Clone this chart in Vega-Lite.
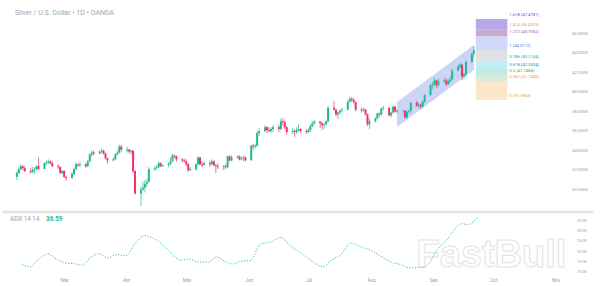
{
"$schema": "https://vega.github.io/schema/vega-lite/v6.json",
"padding": 0,
"spacing": 3,
"background": "white",
"config": {"view": {"stroke": null}, "font": "Roboto", "axis": {"grid": false, "domain": false, "ticks": false, "labelColor": "#9a9a9a", "labelFont": "Roboto", "title": null, "labelOverlap": false, "labelSeparation": 0}},
"datasets": {
"candles": [
{"d":"2025-02-03","o":31.3,"h":31.9,"l":31.0,"c":31.7},
{"d":"2025-02-04","o":31.7,"h":32.3,"l":31.6,"c":32.1},
{"d":"2025-02-05","o":32.1,"h":32.6,"l":32.0,"c":32.4},
{"d":"2025-02-06","o":32.4,"h":32.5,"l":32.0,"c":32.2},
{"d":"2025-02-07","o":32.2,"h":32.4,"l":31.8,"c":31.9},
{"d":"2025-02-10","o":31.9,"h":32.2,"l":31.6,"c":31.8},
{"d":"2025-02-11","o":31.8,"h":32.3,"l":31.7,"c":32.0},
{"d":"2025-02-12","o":32.0,"h":32.3,"l":31.6,"c":32.1},
{"d":"2025-02-13","o":32.1,"h":32.5,"l":32.0,"c":32.4},
{"d":"2025-02-14","o":32.4,"h":33.3,"l":32.0,"c":32.1},
{"d":"2025-02-17","o":32.1,"h":32.8,"l":32.1,"c":32.7},
{"d":"2025-02-18","o":32.7,"h":33.0,"l":32.5,"c":32.8},
{"d":"2025-02-19","o":32.8,"h":33.1,"l":32.6,"c":32.9},
{"d":"2025-02-20","o":32.9,"h":33.0,"l":32.6,"c":32.7},
{"d":"2025-02-21","o":32.7,"h":32.9,"l":32.3,"c":32.4},
{"d":"2025-02-24","o":32.4,"h":32.6,"l":32.1,"c":32.3},
{"d":"2025-02-25","o":32.3,"h":32.4,"l":31.6,"c":31.7},
{"d":"2025-02-26","o":31.7,"h":32.0,"l":31.6,"c":31.9},
{"d":"2025-02-27","o":31.9,"h":32.0,"l":31.2,"c":31.3},
{"d":"2025-02-28","o":31.3,"h":31.4,"l":30.9,"c":31.2},
{"d":"2025-03-03","o":31.2,"h":31.8,"l":31.1,"c":31.6},
{"d":"2025-03-04","o":31.6,"h":32.2,"l":31.5,"c":32.1},
{"d":"2025-03-05","o":32.1,"h":32.8,"l":32.0,"c":32.6},
{"d":"2025-03-06","o":32.6,"h":32.7,"l":32.3,"c":32.5},
{"d":"2025-03-07","o":32.5,"h":32.8,"l":32.3,"c":32.6},
{"d":"2025-03-10","o":32.6,"h":32.7,"l":32.2,"c":32.4},
{"d":"2025-03-11","o":32.4,"h":33.0,"l":32.3,"c":32.9},
{"d":"2025-03-12","o":32.9,"h":33.7,"l":32.8,"c":33.6},
{"d":"2025-03-13","o":33.6,"h":34.0,"l":33.4,"c":33.8},
{"d":"2025-03-14","o":33.8,"h":34.0,"l":33.5,"c":33.7},
{"d":"2025-03-17","o":33.7,"h":34.0,"l":33.6,"c":33.9},
{"d":"2025-03-18","o":33.9,"h":34.2,"l":33.7,"c":34.0},
{"d":"2025-03-19","o":34.0,"h":34.1,"l":33.6,"c":33.7},
{"d":"2025-03-20","o":33.7,"h":33.8,"l":33.1,"c":33.2},
{"d":"2025-03-21","o":33.2,"h":33.3,"l":32.7,"c":33.0},
{"d":"2025-03-24","o":33.0,"h":33.3,"l":32.9,"c":33.1},
{"d":"2025-03-25","o":33.1,"h":33.7,"l":33.0,"c":33.6},
{"d":"2025-03-26","o":33.6,"h":34.0,"l":33.5,"c":33.8},
{"d":"2025-03-27","o":33.8,"h":34.6,"l":33.7,"c":34.4},
{"d":"2025-03-28","o":34.4,"h":34.6,"l":33.9,"c":34.1},
{"d":"2025-03-31","o":34.0,"h":34.4,"l":33.8,"c":34.1},
{"d":"2025-04-01","o":34.1,"h":34.2,"l":33.7,"c":33.9},
{"d":"2025-04-02","o":33.9,"h":34.1,"l":33.6,"c":34.0},
{"d":"2025-04-03","o":34.0,"h":34.0,"l":31.7,"c":31.9},
{"d":"2025-04-04","o":31.9,"h":32.0,"l":29.5,"c":29.6},
{"d":"2025-04-07","o":29.6,"h":30.3,"l":28.3,"c":30.0},
{"d":"2025-04-08","o":30.0,"h":30.8,"l":29.9,"c":30.2},
{"d":"2025-04-09","o":30.2,"h":31.0,"l":29.7,"c":30.6},
{"d":"2025-04-10","o":30.6,"h":31.1,"l":30.3,"c":30.8},
{"d":"2025-04-11","o":30.8,"h":32.3,"l":30.7,"c":32.1},
{"d":"2025-04-14","o":32.1,"h":32.4,"l":31.9,"c":32.2},
{"d":"2025-04-15","o":32.2,"h":32.5,"l":32.0,"c":32.3},
{"d":"2025-04-16","o":32.3,"h":32.9,"l":32.2,"c":32.7},
{"d":"2025-04-17","o":32.7,"h":32.8,"l":32.3,"c":32.4},
{"d":"2025-04-18","o":32.4,"h":32.6,"l":32.3,"c":32.5},
{"d":"2025-04-21","o":32.5,"h":32.8,"l":32.3,"c":32.6},
{"d":"2025-04-22","o":32.6,"h":33.3,"l":32.5,"c":32.9},
{"d":"2025-04-23","o":32.9,"h":33.7,"l":32.8,"c":33.5},
{"d":"2025-04-24","o":33.5,"h":33.6,"l":33.2,"c":33.4},
{"d":"2025-04-25","o":33.4,"h":33.5,"l":32.9,"c":33.1},
{"d":"2025-04-28","o":33.1,"h":33.2,"l":32.8,"c":33.0},
{"d":"2025-04-29","o":33.0,"h":33.2,"l":32.8,"c":32.9},
{"d":"2025-04-30","o":32.9,"h":33.1,"l":32.4,"c":32.6},
{"d":"2025-05-01","o":32.6,"h":32.7,"l":31.8,"c":32.0},
{"d":"2025-05-02","o":32.0,"h":32.3,"l":31.9,"c":32.1},
{"d":"2025-05-05","o":32.1,"h":32.7,"l":31.9,"c":32.6},
{"d":"2025-05-06","o":32.6,"h":33.4,"l":32.5,"c":33.3},
{"d":"2025-05-07","o":33.3,"h":33.3,"l":32.5,"c":32.6},
{"d":"2025-05-08","o":32.6,"h":32.9,"l":32.3,"c":32.5},
{"d":"2025-05-09","o":32.5,"h":32.9,"l":32.5,"c":32.7},
{"d":"2025-05-12","o":32.7,"h":33.0,"l":32.3,"c":32.6},
{"d":"2025-05-13","o":32.6,"h":33.1,"l":32.5,"c":32.9},
{"d":"2025-05-14","o":32.9,"h":33.0,"l":32.4,"c":32.5},
{"d":"2025-05-15","o":32.5,"h":32.6,"l":31.7,"c":32.4},
{"d":"2025-05-16","o":32.4,"h":32.7,"l":32.1,"c":32.3},
{"d":"2025-05-19","o":32.3,"h":32.5,"l":32.0,"c":32.4},
{"d":"2025-05-20","o":32.4,"h":32.6,"l":32.1,"c":32.3},
{"d":"2025-05-21","o":32.3,"h":33.5,"l":32.2,"c":33.4},
{"d":"2025-05-22","o":33.4,"h":33.5,"l":32.9,"c":33.0},
{"d":"2025-05-23","o":33.0,"h":33.5,"l":32.9,"c":33.3},
{"d":"2025-05-26","o":33.3,"h":33.5,"l":33.2,"c":33.4},
{"d":"2025-05-27","o":33.4,"h":33.5,"l":33.0,"c":33.1},
{"d":"2025-05-28","o":33.1,"h":33.4,"l":33.0,"c":33.2},
{"d":"2025-05-29","o":33.2,"h":33.5,"l":32.9,"c":33.3},
{"d":"2025-05-30","o":33.3,"h":33.4,"l":32.9,"c":33.0},
{"d":"2025-06-02","o":33.0,"h":34.6,"l":33.0,"c":34.5},
{"d":"2025-06-03","o":34.5,"h":34.7,"l":34.1,"c":34.4},
{"d":"2025-06-04","o":34.4,"h":34.7,"l":34.2,"c":34.5},
{"d":"2025-06-05","o":34.5,"h":36.0,"l":34.4,"c":35.8},
{"d":"2025-06-06","o":35.8,"h":36.3,"l":35.5,"c":36.0},
{"d":"2025-06-09","o":36.0,"h":36.6,"l":35.9,"c":36.4},
{"d":"2025-06-10","o":36.4,"h":36.5,"l":35.8,"c":36.1},
{"d":"2025-06-11","o":36.1,"h":36.4,"l":35.9,"c":36.0},
{"d":"2025-06-12","o":36.0,"h":36.4,"l":35.8,"c":36.2},
{"d":"2025-06-13","o":36.2,"h":36.6,"l":35.9,"c":36.4},
{"d":"2025-06-16","o":36.4,"h":36.6,"l":35.9,"c":36.2},
{"d":"2025-06-17","o":36.2,"h":37.3,"l":36.1,"c":37.0},
{"d":"2025-06-18","o":37.0,"h":37.3,"l":36.6,"c":36.9},
{"d":"2025-06-19","o":36.9,"h":37.1,"l":36.2,"c":36.4},
{"d":"2025-06-20","o":36.4,"h":36.5,"l":35.6,"c":35.9},
{"d":"2025-06-23","o":35.9,"h":36.3,"l":35.7,"c":36.0},
{"d":"2025-06-24","o":36.0,"h":36.2,"l":35.4,"c":35.9},
{"d":"2025-06-25","o":35.9,"h":36.4,"l":35.7,"c":36.1},
{"d":"2025-06-26","o":36.1,"h":36.7,"l":35.9,"c":36.2},
{"d":"2025-06-27","o":36.2,"h":36.3,"l":35.8,"c":36.0},
{"d":"2025-06-30","o":36.0,"h":36.2,"l":35.7,"c":35.9},
{"d":"2025-07-01","o":35.9,"h":36.3,"l":35.8,"c":36.1},
{"d":"2025-07-02","o":36.1,"h":36.7,"l":35.9,"c":36.5},
{"d":"2025-07-03","o":36.5,"h":37.0,"l":36.4,"c":36.8},
{"d":"2025-07-04","o":36.8,"h":37.1,"l":36.7,"c":37.0},
{"d":"2025-07-07","o":37.0,"h":37.0,"l":36.3,"c":36.8},
{"d":"2025-07-08","o":36.8,"h":36.9,"l":36.1,"c":36.6},
{"d":"2025-07-09","o":36.6,"h":36.8,"l":36.2,"c":36.7},
{"d":"2025-07-10","o":36.7,"h":37.1,"l":36.6,"c":37.0},
{"d":"2025-07-11","o":37.0,"h":38.5,"l":36.9,"c":38.4},
{"d":"2025-07-14","o":38.4,"h":39.1,"l":38.1,"c":38.2},
{"d":"2025-07-15","o":38.2,"h":38.3,"l":37.5,"c":37.7},
{"d":"2025-07-16","o":37.7,"h":38.0,"l":37.2,"c":37.9},
{"d":"2025-07-17","o":37.9,"h":38.2,"l":37.7,"c":38.1},
{"d":"2025-07-18","o":38.1,"h":38.4,"l":37.9,"c":38.2},
{"d":"2025-07-21","o":38.2,"h":39.1,"l":38.1,"c":39.0},
{"d":"2025-07-22","o":39.0,"h":39.5,"l":38.9,"c":39.3},
{"d":"2025-07-23","o":39.3,"h":39.5,"l":39.0,"c":39.2},
{"d":"2025-07-24","o":39.2,"h":39.4,"l":38.8,"c":39.0},
{"d":"2025-07-25","o":39.0,"h":39.0,"l":38.0,"c":38.2},
{"d":"2025-07-28","o":38.2,"h":38.4,"l":37.9,"c":38.1},
{"d":"2025-07-29","o":38.1,"h":38.4,"l":38.0,"c":38.2},
{"d":"2025-07-30","o":38.2,"h":38.3,"l":37.6,"c":37.7},
{"d":"2025-07-31","o":37.7,"h":37.8,"l":36.5,"c":36.7},
{"d":"2025-08-01","o":36.7,"h":37.3,"l":36.2,"c":37.0},
{"d":"2025-08-04","o":37.0,"h":37.4,"l":36.9,"c":37.3},
{"d":"2025-08-05","o":37.3,"h":37.9,"l":37.2,"c":37.8},
{"d":"2025-08-06","o":37.8,"h":37.9,"l":37.4,"c":37.7},
{"d":"2025-08-07","o":37.7,"h":38.4,"l":37.6,"c":38.3},
{"d":"2025-08-08","o":38.3,"h":38.6,"l":38.1,"c":38.4},
{"d":"2025-08-11","o":38.4,"h":38.4,"l":37.5,"c":37.6},
{"d":"2025-08-12","o":37.6,"h":38.0,"l":37.4,"c":37.9},
{"d":"2025-08-13","o":37.9,"h":38.6,"l":37.8,"c":38.5},
{"d":"2025-08-14","o":38.5,"h":38.6,"l":37.9,"c":38.0},
{"d":"2025-08-15","o":38.0,"h":38.2,"l":37.8,"c":38.1},
{"d":"2025-08-18","o":38.1,"h":38.2,"l":37.9,"c":38.1},
{"d":"2025-08-19","o":38.1,"h":38.1,"l":37.3,"c":37.4},
{"d":"2025-08-20","o":37.4,"h":38.1,"l":37.2,"c":38.0},
{"d":"2025-08-21","o":38.0,"h":38.2,"l":37.8,"c":38.1},
{"d":"2025-08-22","o":38.1,"h":39.0,"l":37.9,"c":38.9},
{"d":"2025-08-25","o":38.9,"h":39.1,"l":38.5,"c":38.6},
{"d":"2025-08-26","o":38.6,"h":38.9,"l":38.3,"c":38.7},
{"d":"2025-08-27","o":38.7,"h":38.8,"l":38.3,"c":38.5},
{"d":"2025-08-28","o":38.5,"h":39.1,"l":38.4,"c":39.0},
{"d":"2025-08-29","o":39.0,"h":39.8,"l":38.9,"c":39.7},
{"d":"2025-09-01","o":39.7,"h":40.8,"l":39.6,"c":40.7},
{"d":"2025-09-02","o":40.7,"h":41.0,"l":40.3,"c":40.8},
{"d":"2025-09-03","o":40.8,"h":41.5,"l":40.6,"c":41.2},
{"d":"2025-09-04","o":41.2,"h":41.2,"l":40.4,"c":40.7},
{"d":"2025-09-05","o":40.7,"h":41.4,"l":40.5,"c":41.1},
{"d":"2025-09-08","o":41.1,"h":41.5,"l":40.9,"c":41.2},
{"d":"2025-09-09","o":41.2,"h":41.4,"l":40.6,"c":40.8},
{"d":"2025-09-10","o":40.8,"h":41.3,"l":40.7,"c":41.1},
{"d":"2025-09-11","o":41.1,"h":41.6,"l":40.9,"c":41.3},
{"d":"2025-09-12","o":41.3,"h":42.4,"l":41.2,"c":42.2},
{"d":"2025-09-15","o":42.2,"h":42.8,"l":42.1,"c":42.6},
{"d":"2025-09-16","o":42.6,"h":43.0,"l":42.4,"c":42.8},
{"d":"2025-09-17","o":42.8,"h":42.9,"l":41.2,"c":41.6},
{"d":"2025-09-18","o":41.6,"h":42.0,"l":41.3,"c":41.8},
{"d":"2025-09-19","o":41.8,"h":43.2,"l":41.6,"c":43.1},
{"d":"2025-09-22","o":43.1,"h":44.0,"l":43.0,"c":43.9},
{"d":"2025-09-23","o":43.9,"h":44.7,"l":43.6,"c":44.3}
],
"adx": [
{"d":"2025-02-08","v":13.6},{"d":"2025-02-12","v":12.5},{"d":"2025-02-16","v":16.0},{"d":"2025-02-21","v":18.8},
{"d":"2025-02-25","v":16.4},{"d":"2025-03-02","v":14.4},{"d":"2025-03-06","v":14.1},{"d":"2025-03-10","v":13.3},
{"d":"2025-03-14","v":16.9},{"d":"2025-03-18","v":19.0},{"d":"2025-03-23","v":16.9},{"d":"2025-03-27","v":18.5},
{"d":"2025-04-01","v":18.0},{"d":"2025-04-05","v":23.4},{"d":"2025-04-10","v":27.8},{"d":"2025-04-14","v":26.7},
{"d":"2025-04-19","v":23.4},{"d":"2025-04-24","v":18.5},{"d":"2025-04-28","v":15.7},{"d":"2025-05-02","v":16.4},
{"d":"2025-05-07","v":14.9},{"d":"2025-05-12","v":14.9},{"d":"2025-05-16","v":17.4},{"d":"2025-05-20","v":15.2},
{"d":"2025-05-24","v":13.9},{"d":"2025-05-28","v":15.2},{"d":"2025-06-02","v":15.7},{"d":"2025-06-07","v":23.9},
{"d":"2025-06-12","v":24.6},{"d":"2025-06-17","v":27.0},{"d":"2025-06-22","v":22.6},{"d":"2025-06-27","v":19.3},
{"d":"2025-07-02","v":15.7},{"d":"2025-07-08","v":12.5},{"d":"2025-07-12","v":15.7},{"d":"2025-07-17","v":18.5},
{"d":"2025-07-22","v":24.2},{"d":"2025-07-27","v":22.3},{"d":"2025-08-01","v":20.6},{"d":"2025-08-06","v":17.7},
{"d":"2025-08-11","v":14.8},{"d":"2025-08-16","v":13.6},{"d":"2025-08-20","v":12.0},{"d":"2025-08-27","v":12.3},
{"d":"2025-08-30","v":14.4},{"d":"2025-09-03","v":20.9},{"d":"2025-09-08","v":25.8},{"d":"2025-09-11","v":30.0},
{"d":"2025-09-15","v":33.7},{"d":"2025-09-18","v":33.2},{"d":"2025-09-23","v":36.59}
],
"channel": [
{"d":"2025-08-15","top":38.98,"bottom":36.42},
{"d":"2025-09-23","top":44.82,"bottom":42.26}
],
"fibBands": [
{"band":"1.414-1.618","top":47.4781,"bottom":46.4329},
{"band":"1.272-1.414","top":46.4329,"bottom":45.7052},
{"band":"1-1.272","top":45.7052,"bottom":44.3112},
{"band":"0.786-1","top":44.3112,"bottom":43.2144},
{"band":"0.618-0.786","top":43.2144,"bottom":42.3534},
{"band":"0.5-0.618","top":42.3534,"bottom":41.7488},
{"band":"0.382-0.5","top":41.7488,"bottom":41.1440},
{"band":"0-0.382","top":41.1440,"bottom":39.1863}
],
"fibLevels": [
{"level":"1.618","p":47.4781,"label":"1.618 (47.4781)"},
{"level":"1.414","p":46.4329,"label":"1.414 (46.4329)"},
{"level":"1.272","p":45.7052,"label":"1.272 (45.7052)"},
{"level":"1","p":44.3112,"label":"1 (44.3112)"},
{"level":"0.786","p":43.2144,"label":"0.786 (43.2144)"},
{"level":"0.618","p":42.3534,"label":"0.618 (42.3534)"},
{"level":"0.5","p":41.7488,"label":"0.5 (41.7488)"},
{"level":"0.382","p":41.1440,"label":"0.382 (41.1440)"},
{"level":"0","p":39.1863,"label":"0 (39.1863)"}
],
"priceTicks": [{"p":30},{"p":32},{"p":34},{"p":36},{"p":38},{"p":40},{"p":42},{"p":44},{"p":46}],
"adxTicks": [{"v":10},{"v":15},{"v":20},{"v":25},{"v":30},{"v":35}]
},
"vconcat": [
{
"width": 560, "height": 206,
"layer": [
{"data": {"name": "channel"},
 "mark": {"type": "area", "color": "#8ea0ef", "opacity": 0.45},
 "encoding": {
  "x": {"field": "d", "type": "temporal", "scale": {"domain": [{"year":2025,"month":1,"date":29}, {"year":2025,"month":11,"date":4,"hours":5}]}, "axis": null},
  "y": {"field": "top", "type": "quantitative", "scale": {"domain": [28.32, 49.436], "nice": false, "zero": false}, "axis": null},
  "y2": {"field": "bottom"}}},
{"data": {"name": "priceTicks"},
 "mark": {"type": "text", "align": "left", "baseline": "middle", "fontSize": 4.4, "color": "#9a9a9a", "dx": 15},
 "encoding": {
  "x": {"datum": {"year":2025,"month":11,"date":4,"hours":5}, "type": "temporal"},
  "y": {"field": "p", "type": "quantitative"},
  "text": {"field": "p", "type": "quantitative", "format": ".4f"}}},
{"data": {"name": "fibBands"},
 "mark": {"type": "rect"},
 "encoding": {
  "x": {"datum": {"year":2025,"month":9,"date":24}, "type": "temporal"},
  "x2": {"datum": {"year":2025,"month":10,"date":10}},
  "y": {"field": "top", "type": "quantitative"},
  "y2": {"field": "bottom"},
  "fill": {"field": "band", "type": "nominal", "legend": null,
    "scale": {"domain": ["1.414-1.618","1.272-1.414","1-1.272","0.786-1","0.618-0.786","0.5-0.618","0.382-0.5","0-0.382"],
              "range": ["#b8a8e8","#c8a9cf","#d0d9f8","#e0e1e4","#bfeef4","#c5eae1","#d4ecd9","#fde6c9"]}}}},
{"data": {"name": "fibLevels"},
 "mark": {"type": "text", "align": "left", "baseline": "bottom", "dy": -2, "fontSize": 4.2},
 "encoding": {
  "x": {"datum": {"year":2025,"month":10,"date":11}, "type": "temporal"},
  "y": {"field": "p", "type": "quantitative"},
  "text": {"field": "label"},
  "color": {"field": "level", "type": "nominal", "legend": null,
    "scale": {"domain": ["1.618","1.414","1.272","1","0.786","0.618","0.5","0.382","0"],
              "range": ["#4f5fd0","#e9a23b","#9b4fae","#5d72c8","#1fa5b8","#16998a","#4caf50","#f59a2a","#e09a45"]}}}},
{"data": {"name": "candles"},
 "mark": {"type": "rule", "strokeWidth": 0.7},
 "encoding": {
  "x": {"field": "d", "type": "temporal"},
  "y": {"field": "l", "type": "quantitative"},
  "y2": {"field": "h"},
  "color": {"condition": {"test": "datum.c >= datum.o", "value": "#22b893"}, "value": "#ec3560"}}},
{"data": {"name": "candles"},
 "mark": {"type": "bar", "width": 2.0},
 "encoding": {
  "x": {"field": "d", "type": "temporal"},
  "y": {"field": "o", "type": "quantitative"},
  "y2": {"field": "c"},
  "color": {"condition": {"test": "datum.c >= datum.o", "value": "#22b893"}, "value": "#ec3560"}}},
{"data": {"values": [{}]},
 "mark": {"type": "text", "align": "left", "baseline": "middle", "fontSize": 7, "color": "#a3a3a3", "text": "Silver / U.S. Dollar • 1D • OANDA"},
 "encoding": {
  "x": {"datum": {"year":2025,"month":2,"date":2}, "type": "temporal"},
  "y": {"datum": 48.1, "type": "quantitative"}}}
]
},
{
"width": 560, "height": 62,
"layer": [
{"data": {"values": [{}]},
 "mark": {"type": "rule", "color": "#e1e3e8", "strokeWidth": 2.5},
 "encoding": {
  "x": {"datum": {"year":2025,"month":1,"date":29}, "type": "temporal", "scale": {"domain": [{"year":2025,"month":1,"date":29}, {"year":2025,"month":11,"date":4,"hours":5}]},
        "axis": {"orient": "bottom", "format": "%b", "labelFontSize": 4.6, "labelPadding": 3, "labelOverlap": false,
                 "values": [{"year":2025,"month":3,"date":1},{"year":2025,"month":4,"date":1},{"year":2025,"month":5,"date":1},{"year":2025,"month":6,"date":1},{"year":2025,"month":7,"date":1},{"year":2025,"month":8,"date":1},{"year":2025,"month":9,"date":1},{"year":2025,"month":10,"date":1},{"year":2025,"month":11,"date":1}]}},
  "x2": {"datum": {"year":2025,"month":11,"date":20}},
  "y": {"datum": 39.4, "type": "quantitative", "scale": {"domain": [9, 39.4], "nice": false, "zero": false}, "axis": null}}},
{"data": {"name": "adxTicks"},
 "mark": {"type": "text", "align": "left", "baseline": "middle", "fontSize": 3.9, "color": "#9a9a9a", "dx": 15},
 "encoding": {
  "x": {"datum": {"year":2025,"month":11,"date":4,"hours":5}, "type": "temporal"},
  "y": {"field": "v", "type": "quantitative"},
  "text": {"field": "v", "type": "quantitative", "format": ".2f"}}},
{"data": {"values": [{}]},
 "mark": {"type": "text", "align": "center", "baseline": "alphabetic", "fontSize": 38, "fontWeight": "bold", "font": "Liberation Sans", "fill": "#ffffff", "stroke": "#e3e3e3", "strokeWidth": 1, "text": "FastBull"},
 "encoding": {
  "x": {"datum": {"year":2025,"month":9,"date":30}, "type": "temporal"},
  "y": {"datum": 12.4, "type": "quantitative"}}},
{"data": {"name": "adx"},
 "mark": {"type": "line", "color": "#3dbf9e", "strokeWidth": 1, "strokeDash": [1.2, 1.6], "interpolate": "monotone"},
 "encoding": {
  "x": {"field": "d", "type": "temporal"},
  "y": {"field": "v", "type": "quantitative"}}},
{"data": {"values": [{}]},
 "mark": {"type": "text", "align": "left", "baseline": "middle", "fontSize": 6.3, "color": "#a3a3a3", "text": "ADX 14 14"},
 "encoding": {
  "x": {"datum": {"year":2025,"month":2,"date":2}, "type": "temporal"},
  "y": {"datum": 36.0, "type": "quantitative"}}},
{"data": {"values": [{}]},
 "mark": {"type": "text", "align": "left", "baseline": "middle", "fontSize": 6.3, "fontWeight": "bold", "color": "#2bb48f", "text": "36.59"},
 "encoding": {
  "x": {"datum": {"year":2025,"month":2,"date":20}, "type": "temporal"},
  "y": {"datum": 36.0, "type": "quantitative"}}}
]
}
]
}
